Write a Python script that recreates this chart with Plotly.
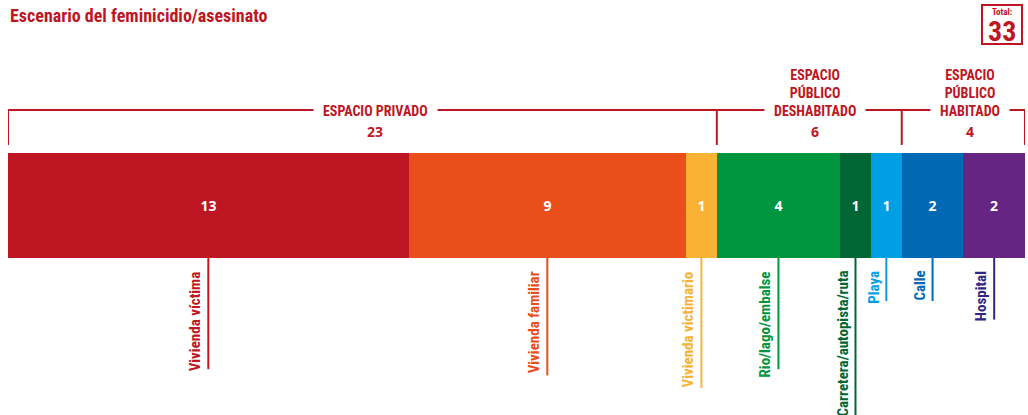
import plotly.graph_objects as go
import numpy as np

# Places where the crimes happened
categories = ["Vivienda víctima", "Vivienda familiar", "Vivienda victimario",
              "Rio/lago/embalse", "Carretera/autopista/ruta", "Playa", "Calle", "Hospital"]
counts = [13, 9, 1, 4, 1, 1, 2, 2]

# Groups of places
group_names = ["ESPACIO PRIVADO", "ESPACIO<br>PÚBLICO<br>DESHABITADO", "ESPACIO<br>PÚBLICO<br>HABITADO"]
group_counts = [23, 6, 4]

total = 33

bar_colors = ["#be1622", "#e94e1b", "#f9b233", "#009640", "#006633", "#009fe3", "#0069b4", "#662483"]
label_colors = ["#be1622", "#e94e1b", "#f9b233", "#009640", "#006633", "#009fe3", "#0069b4", "#312783"]
RED = "#be1622"
COND = "Liberation Sans Narrow, Roboto Condensed, Arial Narrow, sans-serif"
NUMF = "Open Sans, sans-serif"

W, H = 1028, 415
BAR_TOP, BAR_BOT = 153, 258
BAR_MID = (BAR_TOP + BAR_BOT) / 2

fig = go.Figure()
for cat, val, col in zip(categories, counts, bar_colors):
    fig.add_trace(go.Bar(
        y=[BAR_MID], x=[val], width=[BAR_BOT - BAR_TOP], orientation="h",
        marker=dict(color=col, line=dict(width=0)),
        text=[str(val)], textposition="inside", insidetextanchor="middle",
        textangle=0, textfont=dict(family=NUMF, size=14, color="white", weight="bold"),
        name=cat, hoverinfo="skip", showlegend=False,
    ))

shapes = []
annotations = []

# Leader lines and rotated labels under each segment
starts = np.concatenate([[0], np.cumsum(counts)[:-1]])
for cat, val, s, col in zip(categories, counts, starts, label_colors):
    cx = s + val / 2
    text_len = 6.2 * len(cat)
    shapes.append(dict(type="line", xref="x", yref="y", x0=cx, x1=cx,
                       y0=BAR_BOT, y1=BAR_BOT + 12 + text_len,
                       line=dict(color=col, width=2)))
    annotations.append(dict(x=cx, y=BAR_BOT + 11, xref="x", yref="y", text=cat,
                            textangle=-90, xanchor="right", yanchor="top", xshift=-2,
                            showarrow=False,
                            font=dict(family=COND, size=15, color=col, weight="bold")))

# Group brackets above the bar
BR_Y, BR_BOT = 110, 145
shapes.append(dict(type="line", xref="x", yref="y", x0=0, x1=total, y0=BR_Y, y1=BR_Y,
                   line=dict(color=RED, width=2)))
bounds = np.concatenate([[0], np.cumsum(group_counts)])
for b in bounds:
    shapes.append(dict(type="line", xref="x", yref="y", x0=b, x1=b, y0=BR_Y - 1, y1=BR_BOT,
                       line=dict(color=RED, width=2)))
group_shift = [13, 6, 7]
for name, gc, g0, sh in zip(group_names, group_counts, bounds[:-1], group_shift):
    gx = g0 + gc / 2
    annotations.append(dict(x=gx, y=BR_Y + 19, xref="x", yref="y", text=name,
                            xanchor="center", yanchor="bottom", xshift=sh, showarrow=False,
                            bgcolor="white", borderpad=9, align="center",
                            font=dict(family=COND, size=14, color=RED, weight="bold")))
    annotations.append(dict(x=gx, y=131, xref="x", yref="y", text=str(gc),
                            xanchor="center", yanchor="middle", xshift=sh, showarrow=False,
                            font=dict(family=NUMF, size=14, color=RED, weight="bold")))

# Title
annotations.append(dict(x=0, y=15, xref="paper", yref="y", text="Escenario del feminicidio/asesinato",
                        xanchor="left", yanchor="middle", showarrow=False,
                        font=dict(family=COND, size=18, color=RED, weight="bold")))

# Total box in the top-right corner
shapes.append(dict(type="rect", xref="paper", yref="y", x0=(982 - 8) / 1017, x1=(1022 - 8) / 1017,
                   y0=5, y1=44, line=dict(color=RED, width=2), fillcolor="white"))
annotations.append(dict(x=(1002 - 8) / 1017, y=12, xref="paper", yref="y", text="Total:",
                        xanchor="center", yanchor="middle", showarrow=False,
                        font=dict(family=COND, size=9, color=RED, weight="bold")))
annotations.append(dict(x=(1002 - 8) / 1017, y=31, xref="paper", yref="y", text=str(total),
                        xanchor="center", yanchor="middle", showarrow=False,
                        font=dict(family=COND, size=28, color=RED, weight="bold")))

fig.update_layout(
    width=W, height=H, margin=dict(l=8, r=3, t=0, b=0),
    paper_bgcolor="white", plot_bgcolor="white", barmode="stack", bargap=0,
    xaxis=dict(range=[0, total], visible=False, fixedrange=True),
    yaxis=dict(range=[H, 0], visible=False, fixedrange=True),
    shapes=shapes, annotations=annotations,
)

fig.write_html("out.html")
